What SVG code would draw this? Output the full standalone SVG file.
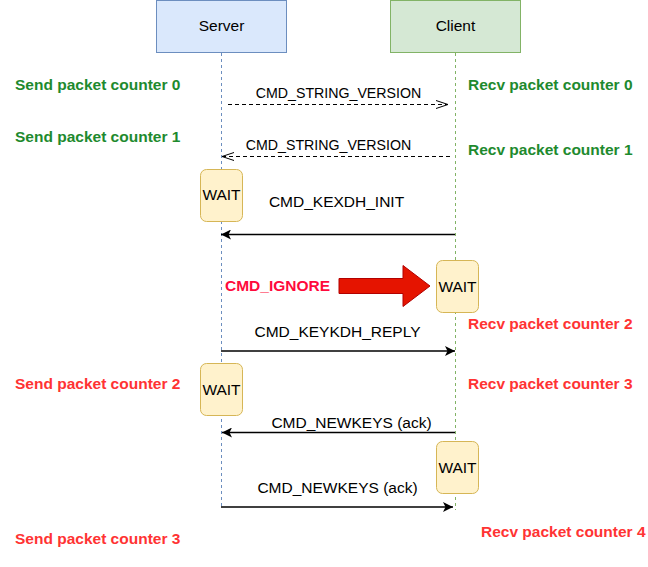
<svg xmlns="http://www.w3.org/2000/svg" width="648" height="567" viewBox="0 0 648 567">
<style>
text{font-family:"Liberation Sans",Arial,sans-serif;font-size:15.5px;fill:#000}
.msg{text-anchor:middle}
.small{font-size:14.2px}
.g{font-weight:bold;fill:#1e8a2e}
.r{font-weight:bold;fill:#ff3333}
.wait{fill:#fff2cc;stroke:#d6b656;stroke-width:1}
.line{stroke:#000;stroke-width:1.3;fill:none}
.dash{stroke:#000;stroke-width:1;fill:none;stroke-dasharray:4 3}
</style>
<defs>
<marker id="block" viewBox="0 0 10 10" refX="10" refY="5" markerWidth="10" markerHeight="10" markerUnits="userSpaceOnUse" orient="auto">
<path d="M0,0 L10,5 L0,10 L2.5,5 Z" fill="#000"/>
</marker>
<marker id="open" viewBox="0 0 14 10" refX="13" refY="5" markerWidth="14" markerHeight="10" markerUnits="userSpaceOnUse" orient="auto">
<path d="M1,1 L13,5 L1,9" fill="none" stroke="#000" stroke-width="1"/>
</marker>
</defs>
<rect width="648" height="567" fill="#fff"/>
<g id="server">
<rect x="156.5" y="0.5" width="130" height="52" fill="#dae8fc" stroke="#6c8ebf"/>
<text class="msg" x="221.5" y="30.5">Server</text>
<line x1="221.5" y1="53" x2="221.5" y2="508" stroke="#6c8ebf" stroke-dasharray="3 3"/>
</g>
<g id="client">
<rect x="390.5" y="0.5" width="130" height="52" fill="#d5e8d4" stroke="#82b366"/>
<text class="msg" x="455.5" y="30.5">Client</text>
<line x1="455.5" y1="53" x2="455.5" y2="510" stroke="#82b366" stroke-dasharray="3 3"/>
</g>
<g id="connectors">
<line class="dash" x1="228" y1="104.5" x2="448" y2="104.5" marker-end="url(#open)"/>
<line class="dash" x1="450" y1="156.5" x2="222" y2="156.5" marker-end="url(#open)"/>
<line class="line" x1="455" y1="234.5" x2="221" y2="234.5" marker-end="url(#block)"/>
<line class="line" x1="221" y1="351" x2="455" y2="351" marker-end="url(#block)"/>
<line class="line" x1="455" y1="432.5" x2="222" y2="432.5" marker-end="url(#block)"/>
<line class="line" x1="221" y1="507" x2="453" y2="507" marker-end="url(#block)"/>
<path d="M339,278.5 L403,278.5 L403,265.5 L430,286 L403,306.5 L403,293.5 L339,293.5 Z" fill="#e51400" stroke="#b20000" stroke-width="1"/>
</g>
<g id="msg-labels">
<text class="msg small" x="338.5" y="98.3">CMD_STRING_VERSION</text>
<text class="msg small" x="328.5" y="150">CMD_STRING_VERSION</text>
<text class="msg" x="336.5" y="207.3">CMD_KEXDH_INIT</text>
<text x="225" y="290.5" style="font-weight:bold;fill:#ff0a3c">CMD_IGNORE</text>
<text class="msg" x="337.5" y="336.7">CMD_KEYKDH_REPLY</text>
<text class="msg" x="351.5" y="427.7">CMD_NEWKEYS (ack)</text>
<text class="msg" x="337.5" y="493.3">CMD_NEWKEYS (ack)</text>
</g>
<g id="wait1"><rect class="wait" x="200.5" y="169.5" width="42" height="52" rx="6"/><text class="msg" x="221.5" y="200">WAIT</text></g>
<g id="wait2"><rect class="wait" x="436.5" y="260.5" width="42" height="52" rx="6"/><text class="msg" x="457.5" y="291.7">WAIT</text></g>
<g id="wait3"><rect class="wait" x="200.5" y="363.5" width="42" height="52" rx="6"/><text class="msg" x="221.5" y="395">WAIT</text></g>
<g id="wait4"><rect class="wait" x="436.5" y="441.5" width="42" height="52" rx="6"/><text class="msg" x="457.5" y="473.3">WAIT</text></g>
<g id="counters">
<text class="g" x="15" y="90">Send packet counter 0</text>
<text class="g" x="15" y="141.7">Send packet counter 1</text>
<text class="g" x="468" y="90">Recv packet counter 0</text>
<text class="g" x="468" y="155">Recv packet counter 1</text>
<text class="r" x="468" y="329.3">Recv packet counter 2</text>
<text class="r" x="15" y="389">Send packet counter 2</text>
<text class="r" x="468" y="388.7">Recv packet counter 3</text>
<text class="r" x="15" y="544.3">Send packet counter 3</text>
<text class="r" x="481" y="536.7">Recv packet counter 4</text>
</g>
</svg>
